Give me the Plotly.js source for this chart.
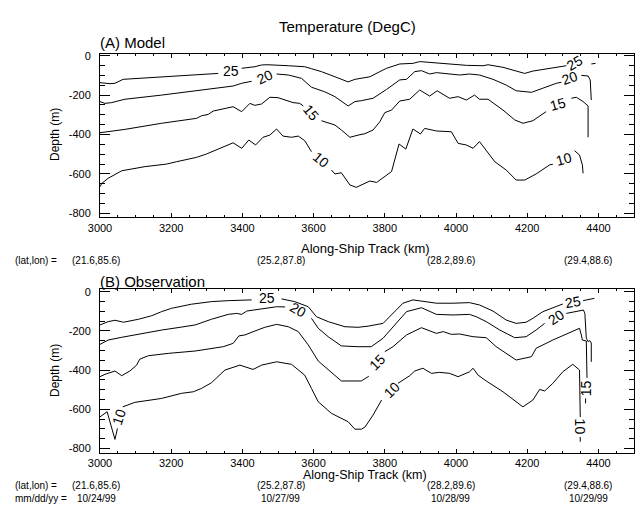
<!DOCTYPE html>
<html>
<head>
<meta charset="utf-8">
<script src="https://cdn.plot.ly/plotly-3.0.1.min.js"></script>
<style>html,body{margin:0;padding:0;background:#fff}#chart{width:635px;height:511px}</style>
</head>
<body>
<div id="chart"></div>
<script>
// ---------- DATA ----------
// (A) Model isotherms (x = along-ship km, y = depth m; null = label gap)
const modelT25x = [3000,3028,3042,3065,3332,null,3398,3435,3454,3472,3529,3575,3594,3622,3660,3697,3716,3744,3758,3786,3805,3842,3879,3898,3935,3982,4029,4076,4090,4132,4193,4216,4263,4310,null,4380,4392];
const modelT25y = [-137,-142,-140,-120,-90,null,-64,-56,-47,-46,-51,-56,-66,-81,-107,-133,-120,-112,-107,-81,-64,-42,-39,-30,-35,-44,-49,-51,-46,-59,-90,-78,-64,-51,null,-42,-39];
const modelT20x = [3000,3014,3033,3070,3173,3267,3374,3398,3426,null,3496,3529,3566,3594,3631,3660,3697,3716,3735,3767,3805,3842,3861,3884,3903,3926,3945,3982,4010,4038,4066,4104,4141,4169,4212,4244,4282,4296,null,4352,4371,4377,4380];
const modelT20y = [-233,-242,-238,-221,-200,-178,-154,-140,-130,null,-93,-98,-115,-160,-183,-208,-255,-233,-228,-216,-171,-123,-120,-81,-76,-93,-86,-93,-98,-93,-98,-120,-149,-178,-186,-165,-140,-135,null,-100,-103,-123,-225];
const modelT15x = [3000,3023,3070,3173,3271,3285,3304,3318,3374,3398,3421,3435,3454,3477,3500,3542,3561,3571,null,3622,3641,3660,3678,3702,3725,3744,3767,3786,3800,3819,3842,3870,3898,3926,3947,3982,4006,4029,4052,4066,4090,4132,4165,4188,4216,4253,null,4324,4338,4357,4371,4371];
const modelT15y = [-391,-386,-374,-343,-318,-305,-298,-281,-259,-284,-242,-252,-245,-211,-213,-238,-242,-255,null,-330,-340,-352,-377,-414,-403,-396,-377,-335,-289,-276,-230,-221,-174,-205,-178,-216,-208,-225,-200,-221,-221,-276,-326,-343,-330,-284,null,-216,-211,-233,-255,-414];
const modelT10x = [3000,3005,3023,3061,3126,3187,3215,3257,3271,3299,3323,3346,3374,3398,3418,3437,3458,3477,3496,3514,3538,3557,3575,3594,null,3650,3660,3678,3702,3720,3740,3758,3777,3819,3840,3859,3879,3900,3912,3945,3987,4006,4029,4048,4066,4109,4141,4169,4193,4225,4263,4272,null,4333,4347,4355,4357];
const modelT10y = [-665,-648,-622,-584,-563,-550,-538,-521,-516,-499,-482,-462,-442,-470,-428,-453,-414,-403,-372,-408,-414,-408,-431,-487,null,-580,-600,-594,-656,-668,-650,-636,-643,-588,-448,-474,-372,-397,-369,-382,-386,-445,-453,-470,-436,-538,-580,-631,-631,-600,-554,-551,null,-482,-504,-554,-597];

// (B) Observation isotherms
const obsT25x = [3000,3023,3042,3066,3108,3145,3173,3201,3257,3313,3360,3426,null,3510,3547,3585,3608,3641,3688,3725,3753,3795,3814,3851,3879,3907,3945,3992,4038,4066,4104,4141,4169,4197,4216,4244,4287,4300,null,4357,4389];
const obsT25y = [-170,-153,-146,-156,-141,-123,-102,-85,-64,-51,-46,-42,null,-37,-51,-77,-128,-153,-179,-182,-176,-162,-128,-59,-42,-48,-59,-59,-56,-68,-99,-145,-162,-156,-136,-102,-72,-63,null,-46,-34];
const obsT20x = [3000,3023,3061,3108,3173,3225,3267,3313,3360,3384,3398,3412,3454,3496,3520,null,3594,3613,3641,3678,3725,3762,3795,3823,3861,3903,3917,3945,3992,4038,4057,4085,4123,4165,4197,4225,4249,null,4310,4347,4358,4362,4366,4371,4376,4380,4380];
const obsT20y = [-269,-247,-233,-216,-196,-182,-170,-141,-116,-111,-116,-99,-88,-77,-78,null,-136,-187,-230,-277,-281,-281,-238,-179,-102,-82,-94,-116,-119,-116,-128,-153,-196,-235,-230,-196,-162,null,-111,-99,-94,-111,-238,-255,-250,-262,-358];
const obsT15x = [3000,3014,3042,3061,3084,3103,3112,3136,3192,3267,3346,3374,3390,3407,3435,3463,3496,3529,3557,3585,3613,3641,3678,3734,3755,null,3800,3823,3861,3903,3945,3964,3987,4010,4048,4085,4113,4141,4169,4212,4225,4272,4315,4347,4352,4355,4366,4368,null,4364,4364];
const obsT15y = [-434,-422,-405,-429,-405,-375,-344,-327,-315,-303,-281,-264,-226,-221,-201,-182,-167,-179,-204,-272,-354,-400,-456,-456,-432,null,-306,-281,-221,-184,-213,-204,-218,-216,-230,-235,-281,-315,-349,-332,-289,-247,-213,-187,-221,-247,-252,-440,null,-545,-570];
const obsT10x = [3000,3020,3042,3049,null,3064,3098,3173,3229,3262,3285,3313,3351,3393,3430,3454,3496,3538,3575,3594,3613,3650,3697,3716,3734,3744,3767,3791,null,3837,3870,3884,3907,3931,3954,3982,4006,4038,4048,4062,4085,4132,4188,4216,4235,4249,4272,4300,4328,4347,4349,null,4349,4349];
const obsT10y = [-639,-613,-754,-698,null,-588,-565,-545,-519,-511,-494,-465,-400,-375,-397,-375,-358,-371,-426,-494,-562,-621,-664,-702,-702,-692,-630,-553,null,-468,-429,-405,-391,-417,-412,-417,-434,-409,-391,-426,-456,-511,-588,-553,-499,-507,-468,-409,-371,-400,-640,null,-742,-766];

// contour labels
const modelLabelText = ['25','20','15','10','25','20','15','10'];
const modelLabelX = [3368,3463,3594,3622,4333,4319,4287,4303];
const modelLabelY = [-80,-110,-292,-529,-39,-115,-245,-526];
const obsLabelText = ['25','20','10','15','10','25','20','15','10'];
const obsLabelX = [3470,3557,3053,3779,3819,4328,4282,4364,4349];
const obsLabelY = [-31,-94,-639,-357,-502,-51,-128,-495,-690];

// axis ticks
const xTickVals = [3000,3200,3400,3600,3800,4000,4200,4400];
const yTickVals = [0,-200,-400,-600,-800];
const yTickText = ['0','-200','-400','-600','-800'];

// station info
const stationKm = [2990,3508,3985,4372];
const stationLatLon = ['(21.6,85.6)','(25.2,87.8)','(28.2,89.6)','(29.4,88.6)'];
const stationDate = ['10/24/99','10/27/99','10/28/99','10/29/99'];

// ---------- STYLE ----------
const modelLabelAngle = [0,-25,50,40,-30,-20,-15,-15];
const obsLabelAngle = [0,30,-72,-45,-45,-10,-35,-90,90];

const W = 635, H = 511;
const FONT = 'Liberation Sans, Arial, Helvetica, sans-serif';
const X0 = 100, X1 = 634, XMIN = 3000, XMAX = 4500;
const px = v => v / W;
const py = v => 1 - v / H;
const kmToPaper = k => px(X0 + (k - XMIN) * (X1 - X0) / (XMAX - XMIN));

function line(x, y, xa, ya) {
  return {x, y, xaxis: xa, yaxis: ya, type: 'scatter', mode: 'lines',
    line: {color: 'black', width: 1}, connectgaps: false, hoverinfo: 'skip', showlegend: false};
}

const traces = [
  line(modelT25x, modelT25y, 'x', 'y'),
  line(modelT20x, modelT20y, 'x', 'y'),
  line(modelT15x, modelT15y, 'x', 'y'),
  line(modelT10x, modelT10y, 'x', 'y'),
  line(obsT25x, obsT25y, 'x2', 'y2'),
  line(obsT20x, obsT20y, 'x2', 'y2'),
  line(obsT15x, obsT15y, 'x2', 'y2'),
  line(obsT10x, obsT10y, 'x2', 'y2')
];

function xAxis(anchor) {
  return {domain: [px(X0), px(X1)], range: [XMIN, XMAX], anchor,
    tickmode: 'array', tickvals: xTickVals, ticks: 'inside', ticklen: 4, tickcolor: 'black', tickwidth: 1,
    showline: true, linecolor: 'black', linewidth: 1, mirror: 'allticks',
    showgrid: false, zeroline: false, tickfont: {family: FONT, size: 11, color: 'black'},
    minor: {tickmode: 'linear', tick0: 3000, dtick: 50, ticks: 'inside', ticklen: 2, tickcolor: 'black', showgrid: false}};
}
function yAxis(top, bottom, range, anchor) {
  return {domain: [py(bottom), py(top)], range, anchor,
    tickmode: 'array', tickvals: yTickVals, ticktext: yTickText, ticks: 'inside', ticklen: 10, tickcolor: 'black', tickwidth: 1,
    showline: true, linecolor: 'black', linewidth: 1, mirror: 'allticks', ticklabelstandoff: 6,
    showgrid: false, zeroline: false, tickfont: {family: FONT, size: 11, color: 'black'},
    minor: {tickmode: 'linear', tick0: 0, dtick: 50, ticks: 'inside', ticklen: 5, tickcolor: 'black', showgrid: false}};
}

const ann = [];
function txt(text, x, y, size, xanchor, extra) {
  ann.push(Object.assign({text, x: px(x), y: py(y), xref: 'paper', yref: 'paper', showarrow: false,
    xanchor: xanchor || 'center', yanchor: 'middle', font: {family: FONT, size, color: 'black'}}, extra || {}));
}
txt('Temperature (DegC)', 347, 26, 15);
txt('(A) Model', 98, 42, 15, 'left');
txt('(B) Observation', 98, 281, 15, 'left');
txt('Depth (m)', 55, 135, 12, 'center', {textangle: -90});
txt('Depth (m)', 55, 371, 12, 'center', {textangle: -90});
txt('Along-Ship Track (km)', 365, 248, 13);
txt('Along-Ship Track (km)', 365, 475, 12.5);
txt('(lat,lon) =', 13, 260, 10, 'left');
txt('(lat,lon) =', 13, 485, 10, 'left');
txt('mm/dd/yy =', 13, 498, 10, 'left');
stationKm.forEach((k, i) => {
  const xp = kmToPaper(k);
  ann.push({text: stationLatLon[i], x: xp, xref: 'paper', y: py(260), yref: 'paper', showarrow: false,
    xanchor: 'center', yanchor: 'middle', font: {family: FONT, size: 10, color: 'black'}});
  ann.push({text: stationLatLon[i], x: xp, xref: 'paper', y: py(485), yref: 'paper', showarrow: false,
    xanchor: 'center', yanchor: 'middle', font: {family: FONT, size: 10, color: 'black'}});
  ann.push({text: stationDate[i], x: xp, xref: 'paper', y: py(498), yref: 'paper', showarrow: false,
    xanchor: 'center', yanchor: 'middle', font: {family: FONT, size: 10, color: 'black'}});
});
modelLabelText.forEach((t, i) => {
  ann.push({text: t, x: modelLabelX[i], y: modelLabelY[i], xref: 'x', yref: 'y', showarrow: false,
    textangle: modelLabelAngle[i], xanchor: 'center', yanchor: 'middle', font: {family: FONT, size: 14, color: 'black'}});
});
obsLabelText.forEach((t, i) => {
  ann.push({text: t, x: obsLabelX[i], y: obsLabelY[i], xref: 'x2', yref: 'y2', showarrow: false,
    textangle: obsLabelAngle[i], xanchor: 'center', yanchor: 'middle', font: {family: FONT, size: 14, color: 'black'}});
});

const layout = {
  width: W, height: H, margin: {l: 0, r: 0, t: 0, b: 0, pad: 0},
  paper_bgcolor: 'white', plot_bgcolor: 'white', showlegend: false,
  font: {family: FONT, color: 'black'},
  xaxis: xAxis('y'),
  yaxis: yAxis(54.3, 217.3, [-820, 7], 'x'),
  xaxis2: xAxis('y2'),
  yaxis2: yAxis(289.3, 452.7, [-822, 12], 'x2'),
  annotations: ann
};

Plotly.newPlot('chart', traces, layout, {staticPlot: true, displayModeBar: false});
</script>
</body>
</html>
